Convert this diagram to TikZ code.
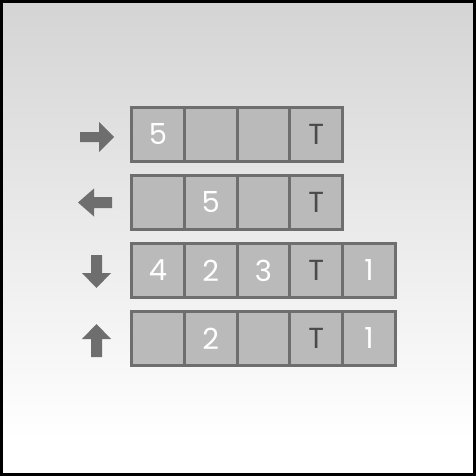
\documentclass[tikz,border=0pt]{standalone}
\usepackage{fontspec}
\setmainfont{Poppins}
\definecolor{bgtop}{HTML}{D4D4D4}
\definecolor{cellfill}{HTML}{BABABA}
\definecolor{celledge}{HTML}{6E6E6E}
\definecolor{arrowgray}{HTML}{6E6E6E}
\definecolor{tcolor}{HTML}{4A4A4A}
\tikzset{
  cell/.style={draw=celledge, fill=cellfill, line width=3pt, minimum width=52.8pt,
    minimum height=54pt, inner sep=0pt, text=white, font=\fontsize{29}{29}\selectfont},
  tcell/.style={cell, text=tcolor},
  blockarrow/.style={fill=arrowgray, draw=none}
}
\begin{document}
\begin{tikzpicture}[x=1pt,y=-1pt]
\useasboundingbox (0,0) rectangle (476,476);
% background
\shade[top color=bgtop, bottom color=white] (0,0) rectangle (476,440);
\fill[white] (0,440) rectangle (476,476);
\draw[black, line width=3pt] (1.5,1.5) rectangle (474.5,474.5);
% row 1
\node[cell]  (a1) at (157.9,134.5) {5};
\node[cell]  (a2) at (210.7,134.5) {};
\node[cell]  (a3) at (263.5,134.5) {};
\node[tcell] (a4) at (316.3,134.5) {T};
% row 2
\node[cell]  (b1) at (157.9,202.5) {};
\node[cell]  (b2) at (210.7,202.5) {5};
\node[cell]  (b3) at (263.5,202.5) {};
\node[tcell] (b4) at (316.3,202.5) {T};
% row 3
\node[cell]  (c1) at (157.9,270.5) {4};
\node[cell]  (c2) at (210.7,270.5) {2};
\node[cell]  (c3) at (263.5,270.5) {3};
\node[tcell] (c4) at (316.3,270.5) {T};
\node[cell]  (c5) at (369.1,270.5) {1};
% row 4
\node[cell]  (d1) at (157.9,338.5) {};
\node[cell]  (d2) at (210.7,338.5) {2};
\node[cell]  (d3) at (263.5,338.5) {};
\node[tcell] (d4) at (316.3,338.5) {T};
\node[cell]  (d5) at (369.1,338.5) {1};
% arrows
\fill[blockarrow] (80,132) -- (99,132) -- (99,122) -- (114,137) -- (99,152) -- (99,142) -- (80,142) -- cycle;
\fill[blockarrow] (112,197) -- (94,197) -- (94,188.5) -- (78,202.5) -- (94,216.5) -- (94,208) -- (112,208) -- cycle;
\fill[blockarrow] (91,255) -- (102,255) -- (102,273) -- (111,273) -- (96.5,288) -- (82,273) -- (91,273) -- cycle;
\fill[blockarrow] (91,357) -- (102,357) -- (102,339) -- (111,339) -- (96.5,324) -- (82,339) -- (91,339) -- cycle;
\end{tikzpicture}
\end{document}
